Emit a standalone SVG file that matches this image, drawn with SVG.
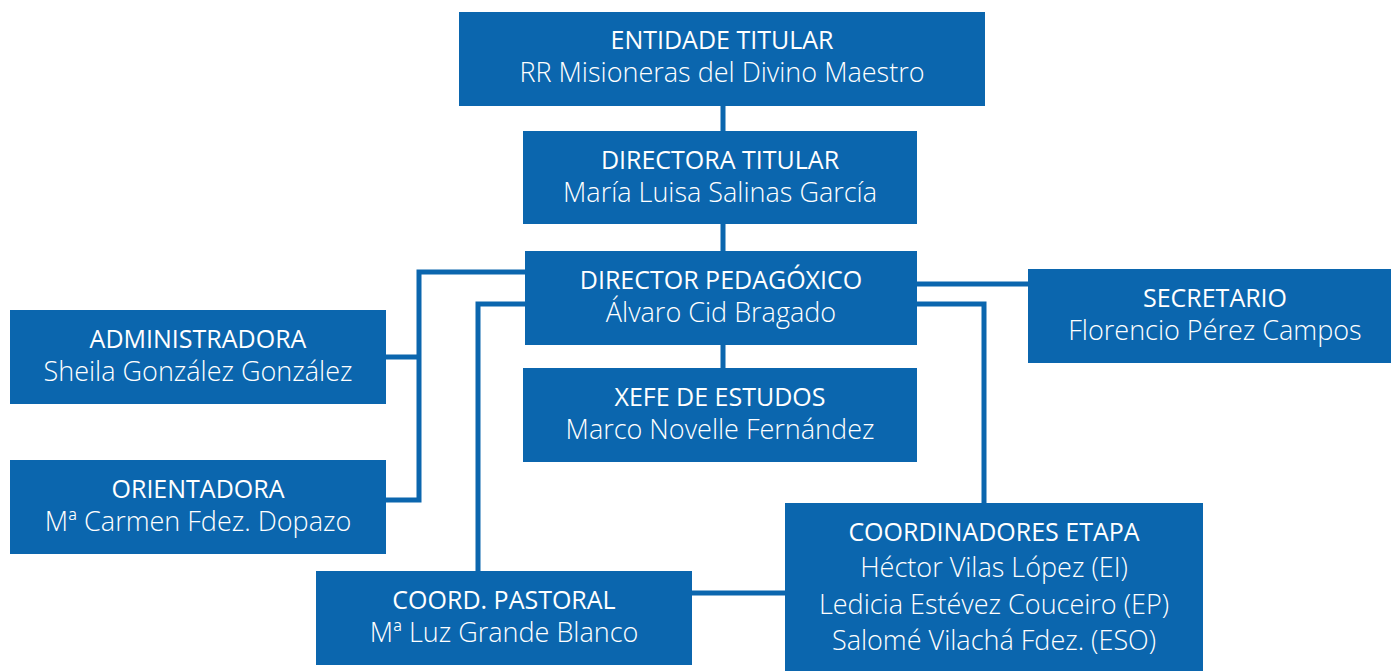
<svg xmlns="http://www.w3.org/2000/svg" width="1391" height="671" viewBox="0 0 1391 671">
<style>
.box{fill:#0B66AE}
.t{font-family:"Open Sans","Liberation Sans",sans-serif;font-size:25px;fill:#fff;text-anchor:middle}
.n{font-family:"Open Sans","Liberation Sans",sans-serif;font-weight:300;font-size:27px;fill:#fff;text-anchor:middle}
.c{fill:none;stroke:#0B66AE;stroke-width:5}
</style>
<rect width="1391" height="671" fill="#fff"/>
<g id="connectors">
<path class="c" d="M723 106V131M723 224V251M723 345V368"/>
<path class="c" d="M525 272H419V500H386M386 357H419"/>
<path class="c" d="M525 304H478V571"/>
<path class="c" d="M917 284H1028"/>
<path class="c" d="M917 304H984V503"/>
<path class="c" d="M692 593H785"/>
</g>
<g id="entidade"><rect class="box" x="459" y="12" width="526" height="94"/><text class="t" x="722" y="49">ENTIDADE TITULAR</text><text class="n" x="722" y="82">RR Misioneras del Divino Maestro</text></g>
<g id="directora"><rect class="box" x="523" y="131" width="394" height="93"/><text class="t" x="720" y="169">DIRECTORA TITULAR</text><text class="n" x="720" y="202">María Luisa Salinas García</text></g>
<g id="director"><rect class="box" x="525" y="251" width="392" height="94"/><text class="t" x="721" y="289">DIRECTOR PEDAGÓXICO</text><text class="n" x="721" y="322">Álvaro Cid Bragado</text></g>
<g id="xefe"><rect class="box" x="523" y="368" width="394" height="94"/><text class="t" x="720" y="406">XEFE DE ESTUDOS</text><text class="n" x="720" y="439">Marco Novelle Fernández</text></g>
<g id="secretario"><rect class="box" x="1028" y="269" width="363" height="94"/><text class="t" x="1215" y="307">SECRETARIO</text><text class="n" x="1215" y="340">Florencio Pérez Campos</text></g>
<g id="administradora"><rect class="box" x="10" y="310" width="376" height="94"/><text class="t" x="198" y="348">ADMINISTRADORA</text><text class="n" x="198" y="381">Sheila González González</text></g>
<g id="orientadora"><rect class="box" x="10" y="460" width="376" height="94"/><text class="t" x="198" y="498">ORIENTADORA</text><text class="n" x="198" y="531">Mª Carmen Fdez. Dopazo</text></g>
<g id="pastoral"><rect class="box" x="316" y="571" width="376" height="94"/><text class="t" x="504" y="609">COORD. PASTORAL</text><text class="n" x="504" y="642">Mª Luz Grande Blanco</text></g>
<g id="coordinadores"><rect class="box" x="785" y="503" width="418" height="168"/><text class="t" x="994" y="541">COORDINADORES ETAPA</text><text class="n" x="994" y="577">Héctor Vilas López (EI)</text><text class="n" x="994" y="614">Ledicia Estévez Couceiro (EP)</text><text class="n" x="994" y="650">Salomé Vilachá Fdez. (ESO)</text></g>
</svg>
